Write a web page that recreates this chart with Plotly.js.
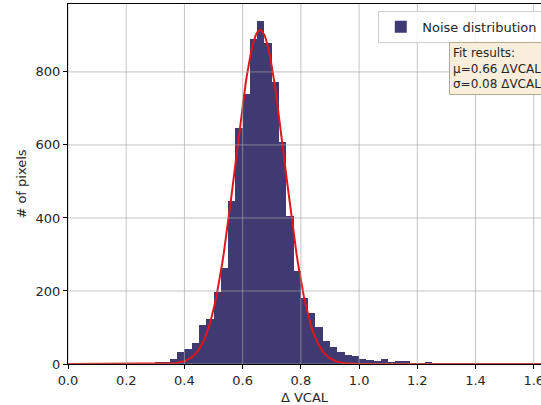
<!DOCTYPE html>
<html>
<head>
<meta charset="utf-8">
<script src="https://cdn.plot.ly/plotly-3.0.1.min.js"></script>
<style>html,body{margin:0;padding:0;background:#fff;}#chart{width:541px;height:405px;}</style>
</head>
<body>
<div id="chart"></div>
<script>
// Histogram: bins of width 0.025 starting at 0.0 (Δ VCAL)
const BIN_START = 0.0;
const BIN_WIDTH = 0.025;
const counts = [
  0, 0, 1, 0, 1, 1, 0, 1, 1, 2,
  2, 3, 5, 6, 13, 34, 40, 57, 107, 122,
  196, 262, 446, 647, 740, 889, 940, 879, 772, 607,
  405, 256, 180, 141, 100, 64, 47, 32, 25, 21,
  14, 11, 8, 14, 6, 8, 8, 3, 1, 5,
  1, 1, 1, 0, 1, 0, 1, 0, 0, 1,
  0, 0, 0, 0, 0
];
// Gaussian fit parameters (from the fit box)
const fitMu = 0.66;
const fitSigma = 0.084;
const fitAmp = 915;
const fitLabel = ["Fit results:", "\u03bc=0.66 \u0394VCAL", "\u03c3=0.08 \u0394VCAL"];
const xTicks = [0.0, 0.2, 0.4, 0.6, 0.8, 1.0, 1.2, 1.4, 1.6];
const yTicks = [0, 200, 400, 600, 800];
const seriesName = "Noise distribution";

const binCenters = counts.map((_, i) => BIN_START + BIN_WIDTH * (i + 0.5));
const fitX = [];
for (let k = 0; k <= 330; k++) fitX.push(k * 0.005);
const fitY = fitX.map(x => fitAmp * Math.exp(-Math.pow(x - fitMu, 2) / (2 * fitSigma * fitSigma)));

const gridColor = "rgba(165,165,165,0.65)";
const shapes = [];
xTicks.forEach(v => shapes.push({type: "line", xref: "x", yref: "paper", x0: v, x1: v, y0: 0, y1: 1, line: {color: gridColor, width: 1}, layer: "above"}));
yTicks.forEach(v => shapes.push({type: "line", xref: "paper", yref: "y", x0: 0, x1: 1.2, y0: v, y1: v, line: {color: gridColor, width: 1}, layer: "above"}));

const font = {family: "DejaVu Sans, sans-serif", size: 13, color: "#262626"};

const data = [
  {type: "bar", x: binCenters, y: counts, width: BIN_WIDTH, name: seriesName,
   marker: {color: "#3f3a72", line: {width: 0}}, showlegend: true},
  {type: "scatter", mode: "lines", x: fitX, y: fitY, line: {color: "#e0161b", width: 2}, showlegend: false, hoverinfo: "skip"}
];

const layout = {
  width: 541, height: 405,
  margin: {l: 68, r: 0, t: 4, b: 41, autoexpand: false},
  paper_bgcolor: "#fff", plot_bgcolor: "#fff",
  font: font,
  bargap: 0,
  showlegend: true,
  xaxis: {range: [0, 1.625], tickvals: xTicks, ticktext: xTicks.map(v => v.toFixed(1)),
    showgrid: false, zeroline: false, showline: true, mirror: true, linecolor: "#000", linewidth: 1,
    ticks: "outside", ticklen: 4, tickcolor: "#000", tickfont: font, ticklabeloverflow: "allow",
    title: {text: "\u0394 VCAL", font: font}},
  yaxis: {range: [0, 986], tickvals: yTicks, showgrid: false, zeroline: false, showline: true, linecolor: "#000", linewidth: 1,
    ticks: "outside", ticklen: 4, tickcolor: "#000", tickfont: font, automargin: true,
    title: {text: "# of pixels", font: font, standoff: 6}},
  legend: {x: 0.656, y: 0.981, xanchor: "left", yanchor: "top", bgcolor: "rgba(255,255,255,0.85)",
    bordercolor: "#d0d0d0", borderwidth: 1, font: font, itemwidth: 33, tracegroupgap: 0},
  shapes: shapes,
  annotations: [{xref: "paper", yref: "paper", x: 0.805, y: 0.894, xanchor: "left", yanchor: "top",
    text: fitLabel.join("<br>"), align: "left", showarrow: false,
    font: {family: "DejaVu Sans, sans-serif", size: 12, color: "#262626"},
    bgcolor: "#f9eedb", bordercolor: "#b9a88c", borderwidth: 1, borderpad: 3}]
};

Plotly.newPlot("chart", data, layout, {displayModeBar: false, staticPlot: true});
</script>
</body>
</html>
